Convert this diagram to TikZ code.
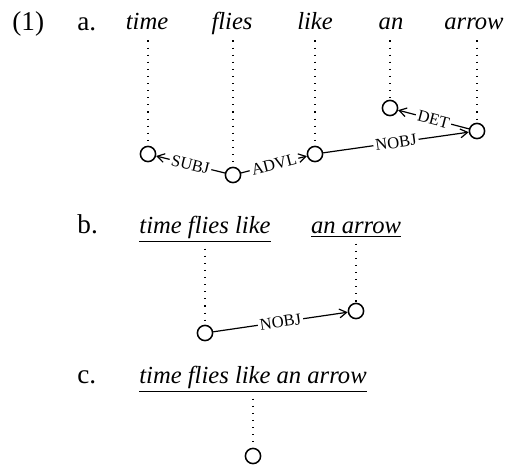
\documentclass[tikz,border=0pt]{standalone}
\usepackage{fontspec}
\setmainfont{Liberation Serif}
\usepackage{tikz}
\usetikzlibrary{positioning}
\usetikzlibrary{arrows.meta}
\newcommand{\exsize}{\fontsize{12.3}{15}\selectfont}
\tikzset{>={Straight Barb[length=3.6pt,width=4.4pt]}}
\tikzset{
  word/.style={font=\exsize\itshape, anchor=base, inner sep=2.5pt, text depth=3pt},
  phrase/.style={font=\exsize\itshape, anchor=base, inner sep=3pt},
  exnum/.style={font=\fontsize{13.6}{16}\selectfont, anchor=base west, inner sep=0pt},
  dep/.style={circle, draw, line width=0.75pt, minimum size=7.6pt, inner sep=0pt},
  proj/.style={line width=0.55pt, dash pattern=on 0.55pt off 3pt},
  rel/.style={->, line width=0.6pt},
  rlab/.style={font=\fontsize{8.3}{9}\selectfont, fill=white, sloped,
    inner sep=1pt, midway}
}

\begin{document}
\begin{tikzpicture}[x=0.5pt, y=-0.5pt]
\useasboundingbox (0,0) rectangle (508,467);

% ================= (1a) =================
\node[exnum] (ex) at (12,30) {(1)};
\node[exnum] (la) at (77,30) {a.};

\foreach \n/\x/\w in {
  1/147/time, 2/232/flies, 3/315/like, 4/391/an, 5/474/arrow
}{
  \node[word] (w\n) at (\x,29) {\w};
}

\foreach \n/\x/\y in {
  1/148/154, 2/233/175, 3/315/154,
  4/390/108, 5/477/131
}{
  \node[dep] (c\n) at (\x,\y) {};
  \draw[proj] (w\n.south -| c\n) -- (c\n);
}

% dependencies
\draw[rel] (c2) -- node[rlab] {SUBJ} (c1);
\draw[rel] (c2) -- node[rlab] {ADVL} (c3);
\draw[rel] (c3) -- node[rlab] {NOBJ} (c5);
\draw[rel] (c5) -- node[rlab] {DET} (c4);

% ================= (1b) =================
\node[exnum] (lb) at (77,233) {b.};
\node[phrase] (p1) at (205,233) {\underline{time flies like}};
\node[phrase] (p2) at (356,233) {\underline{an arrow}};

\node[dep] (b1) at (205,333) {};
\node[dep] (b2) at (356,311) {};
\draw[proj] (p1.south -| b1) -- (b1);
\draw[proj] (p2.south -| b2) -- (b2);

\draw[rel] (b1) -- node[rlab] {NOBJ} (b2);

% ================= (1c) =================
\node[exnum] (lc) at (77,383) {c.};
\node[phrase] (p3) at (253,383) {\underline{time flies like an arrow}};

\node[dep] (d1) at (253,456) {};
\draw[proj] (p3.south -| d1) -- (d1);

\end{tikzpicture}
\end{document}
